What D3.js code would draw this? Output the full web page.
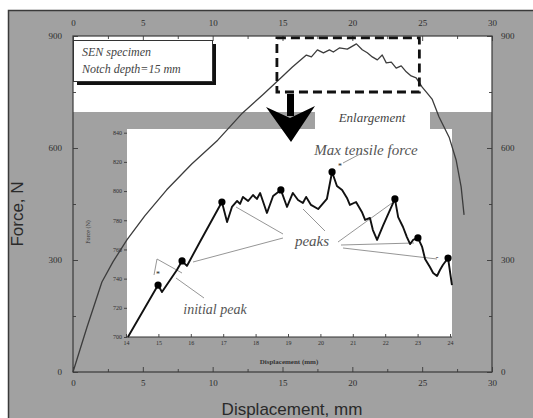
<!DOCTYPE html>
<html>
<head>
<meta charset="utf-8">
<script src="https://cdn.jsdelivr.net/npm/d3@7"></script>
<style>
  html, body { margin: 0; padding: 0; background: #fff; }
  svg { display: block; }
</style>
</head>
<body>
<svg id="chart" width="533" height="418"></svg>
<script>
// Full load–displacement record (displacement in mm, force in N)
const mainDisp  = [0, 1.0, 2.07, 2.86, 3.86, 5.14, 6.71, 8.5, 10.36, 11.21, 12.14, 13.57, 14.57, 15.71, 16.71, 17.07, 17.5, 17.93, 18.36, 18.64, 19.07, 19.64, 20.29, 20.71, 21.07, 21.43, 21.79, 22.14, 22.43, 22.79, 23.14, 23.5, 23.86, 24.21, 24.57, 25.0, 25.36, 25.71, 26.21, 26.93, 27.43, 27.79, 28.0];
const mainForce = [0, 120, 241, 295, 354, 418, 488, 557, 621, 656, 694, 742, 777, 817, 849, 844, 863, 855, 863, 857, 868, 865, 879, 863, 855, 844, 836, 849, 828, 830, 814, 820, 804, 793, 788, 763, 747, 731, 683, 629, 568, 496, 421];

// Enlarged portion of the curve around maximum load
const zoomDisp  = [14.06, 14.99, 15.11, 15.57, 15.73, 15.88, 16.28, 16.96, 17.12, 17.27, 17.43, 17.52, 17.61, 17.77, 17.92, 18.04, 18.14, 18.35, 18.54, 18.78, 18.97, 19.15, 19.31, 19.46, 19.56, 19.71, 19.93, 20.20, 20.36, 20.51, 20.67, 20.82, 20.91, 21.10, 21.28, 21.38, 21.53, 21.62, 21.75, 21.93, 22.30, 22.40, 22.55, 22.67, 22.77, 22.86, 23.01, 23.14, 23.23, 23.38, 23.48, 23.60, 23.69, 23.78, 23.94, 24.06];
const zoomForce = [700, 735.6, 730.8, 745.9, 752.1, 748.7, 765.1, 792.5, 778.8, 789.1, 793.2, 791.2, 796.0, 793.2, 797.3, 794.6, 798.7, 785.0, 796.6, 800.8, 789.1, 798.7, 793.9, 791.8, 796.0, 790.5, 787.7, 794.6, 813.1, 803.5, 800.8, 795.3, 790.5, 792.5, 785.7, 780.2, 781.6, 773.3, 766.5, 776.1, 794.6, 782.2, 775.4, 768.5, 763.7, 766.5, 767.9, 761.7, 753.5, 748.0, 743.9, 741.8, 745.9, 749.3, 754.1, 735.6];

// Marked load peaks in the enlarged record
const peakDisp  = [14.99, 15.73, 16.96, 18.78, 20.36, 22.30, 23.01, 23.94];
const peakForce = [735.6, 752.1, 792.5, 800.8, 813.1, 794.6, 767.9, 754.1];

// Tick values
const mainXTicks = [0, 5, 10, 15, 20, 25, 30];
const mainYTicks = [0, 300, 600, 900];
const zoomXTicks = [14, 15, 16, 17, 18, 19, 20, 21, 22, 23, 24];
const zoomYTicks = [700, 720, 740, 760, 780, 800, 820, 840];

// Region shown enlarged
const enlargeDisp  = [14.6, 24.8];
const enlargeForce = [750, 895];

const svg = d3.select("#chart");
const GRAY = "#a1a1a1";
const serif = "'Liberation Serif', 'DejaVu Serif', serif";
const sans = "'Liberation Sans', Arial, sans-serif";

// Scales
const x = d3.scaleLinear().domain([0, 30]).range([73, 492]);
const y = d3.scaleLinear().domain([0, 900]).range([372, 36]);
const xi = d3.scaleLinear().domain([14, 24]).range([126, 450]);
const yi = d3.scaleLinear().domain([700, 840]).range([337, 132.7]);

// Figure frame and background
svg.append("rect").attr("x", 8.5).attr("y", 10.5).attr("width", 560).attr("height", 420)
  .attr("fill", GRAY).attr("stroke", "#3a3a3a").attr("stroke-width", 1.5);

// Plot area: white upper band, grey lower part
svg.append("rect").attr("x", x(0)).attr("y", y(900)).attr("width", x(30) - x(0)).attr("height", 112 - y(900))
  .attr("fill", "#fff");

// Inset panel
svg.append("rect").attr("x", xi(14) + 1).attr("y", 129).attr("width", 452 - xi(14) - 1).attr("height", yi(700) - 129)
  .attr("fill", "#fff");

// Main axes frame
svg.append("rect").attr("x", x(0)).attr("y", y(900)).attr("width", x(30) - x(0)).attr("height", y(0) - y(900))
  .attr("fill", "none").attr("stroke", "#3a3a3a").attr("stroke-width", 1.2);

function styleAxis(g, size) {
  g.selectAll(".domain").remove();
  g.selectAll("line").attr("stroke", "#3a3a3a").attr("stroke-width", 0.9);
  g.selectAll("text").attr("font-family", serif).attr("font-size", size).attr("fill", "#2e2e2e");
}

const minorX = d3.range(2.5, 30, 5);
const minorY = d3.range(150, 900, 300);

svg.append("g").attr("transform", `translate(0,${y(0)})`)
  .call(d3.axisBottom(x).tickValues(mainXTicks).tickSizeInner(-5).tickSizeOuter(0).tickPadding(8))
  .call(g => styleAxis(g, 9));
svg.append("g").attr("transform", `translate(0,${y(900)})`)
  .call(d3.axisTop(x).tickValues(mainXTicks).tickSizeInner(-5).tickSizeOuter(0).tickPadding(10))
  .call(g => styleAxis(g, 9));
svg.append("g").attr("transform", `translate(${x(0)},0)`)
  .call(d3.axisLeft(y).tickValues(mainYTicks).tickSizeInner(-5).tickSizeOuter(0).tickPadding(11))
  .call(g => styleAxis(g, 9));
svg.append("g").attr("transform", `translate(${x(30)},0)`)
  .call(d3.axisRight(y).tickValues(mainYTicks).tickSizeInner(-5).tickSizeOuter(0).tickPadding(9))
  .call(g => styleAxis(g, 9));
// minor ticks
[["b", y(0)], ["t", y(900)]].forEach(([k, ty]) => {
  svg.append("g").attr("transform", `translate(0,${ty})`)
    .call((k === "b" ? d3.axisBottom(x) : d3.axisTop(x)).tickValues(minorX).tickSizeInner(-3).tickSizeOuter(0).tickFormat(""))
    .call(g => styleAxis(g, 9));
});
[["l", x(0)], ["r", x(30)]].forEach(([k, tx]) => {
  svg.append("g").attr("transform", `translate(${tx},0)`)
    .call((k === "l" ? d3.axisLeft(y) : d3.axisRight(y)).tickValues(minorY).tickSizeInner(-3).tickSizeOuter(0).tickFormat(""))
    .call(g => styleAxis(g, 9));
});

// Main axis titles
svg.append("text").attr("x", 292).attr("y", 415).attr("text-anchor", "middle")
  .attr("font-family", sans).attr("font-size", 17).attr("fill", "#2a2a2a").text("Displacement, mm");
svg.append("text").attr("transform", "translate(23,214) rotate(-90)").attr("text-anchor", "middle")
  .attr("font-family", sans).attr("font-size", 17).attr("fill", "#2a2a2a").text("Force, N");

// Inset axes
svg.append("line").attr("x1", xi(14)).attr("x2", 452).attr("y1", yi(700)).attr("y2", yi(700))
  .attr("stroke", "#333").attr("stroke-width", 1.2);
svg.append("g").attr("transform", `translate(0,${yi(700)})`)
  .call(d3.axisBottom(xi).tickValues(zoomXTicks).tickSizeInner(-3).tickSizeOuter(0).tickPadding(4))
  .call(g => styleAxis(g, 6));
svg.append("g").attr("transform", `translate(${xi(14) + 1},0)`)
  .call(d3.axisLeft(yi).tickValues(zoomYTicks).tickSizeInner(3).tickSizeOuter(0).tickPadding(2))
  .call(g => styleAxis(g, 6));
svg.append("text").attr("x", 289).attr("y", 364).attr("text-anchor", "middle")
  .attr("font-family", serif).attr("font-size", 7).attr("font-weight", "bold").attr("fill", "#333")
  .text("Displacement (mm)");
svg.append("text").attr("transform", "translate(90,232) rotate(-90)").attr("text-anchor", "middle")
  .attr("font-family", serif).attr("font-size", 6).attr("fill", "#333").text("Force (N)");

// Annotation leaders
const leaders = [
  [[283, 234], [236, 207]],
  [[283, 238], [193, 262]],
  [[325, 231], [303, 209]],
  [[338, 242], [392, 203]],
  [[341, 245], [414, 243]],
  [[343, 248], [437, 259]],
  [[157, 259], [182, 273]],
  [[176, 278], [204, 298]],
  [[343, 163], [362, 153]]
];
leaders.forEach(([a, b]) => {
  svg.append("line").attr("x1", a[0]).attr("y1", a[1]).attr("x2", b[0]).attr("y2", b[1])
    .attr("stroke", "#8a8a8a").attr("stroke-width", 0.9);
});
svg.append("line").attr("x1", 154).attr("y1", 275).attr("x2", 157).attr("y2", 259)
  .attr("stroke", "#8a8a8a").attr("stroke-width", 0.9);

// Main curve
const mainLine = d3.line().x((d, i) => x(mainDisp[i])).y(d => y(d));
svg.append("path").datum(mainForce).attr("d", mainLine)
  .attr("fill", "none").attr("stroke", "#3c3c3c").attr("stroke-width", 1.3).attr("stroke-linejoin", "round");

// Enlarged curve
const zoomLine = d3.line().x((d, i) => xi(zoomDisp[i])).y(d => yi(d));
svg.append("path").datum(zoomForce).attr("d", zoomLine)
  .attr("fill", "none").attr("stroke", "#111").attr("stroke-width", 1.9).attr("stroke-linejoin", "round");
svg.append("g").selectAll("circle").data(peakForce).join("circle")
  .attr("cx", (d, i) => xi(peakDisp[i])).attr("cy", d => yi(d)).attr("r", 3.6).attr("fill", "#000");

// small markers near peaks
svg.append("text").attr("x", xi(14.99)).attr("y", yi(735.6) - 8).attr("text-anchor", "middle")
  .attr("font-family", serif).attr("font-size", 8).attr("fill", "#222").text("*");
svg.append("text").attr("x", xi(20.36) + 8).attr("y", yi(813.1) - 3).attr("text-anchor", "middle")
  .attr("font-family", serif).attr("font-size", 8).attr("fill", "#222").text("*");
svg.append("text").attr("x", xi(23.94) - 11).attr("y", yi(754.1) + 2).attr("text-anchor", "middle")
  .attr("font-family", serif).attr("font-size", 8).attr("fill", "#222").text("-");

// Annotation text
svg.append("text").attr("x", 366).attr("y", 155).attr("text-anchor", "middle")
  .attr("font-family", serif).attr("font-style", "italic").attr("font-size", 15).attr("fill", "#555")
  .text("Max tensile force");
svg.append("text").attr("x", 312).attr("y", 246).attr("text-anchor", "middle")
  .attr("font-family", serif).attr("font-style", "italic").attr("font-size", 15).attr("fill", "#555")
  .text("peaks");
svg.append("text").attr("x", 215).attr("y", 314).attr("text-anchor", "middle")
  .attr("font-family", serif).attr("font-style", "italic").attr("font-size", 14).attr("fill", "#555")
  .text("initial peak");

// Enlargement label box
svg.append("rect").attr("x", 315).attr("y", 107).attr("width", 115).attr("height", 23).attr("fill", "#fff");
svg.append("text").attr("x", 372).attr("y", 122).attr("text-anchor", "middle")
  .attr("font-family", serif).attr("font-style", "italic").attr("font-size", 13).attr("fill", "#444")
  .text("Enlargement");

// Dashed rectangle around enlarged region
svg.append("rect")
  .attr("x", x(enlargeDisp[0])).attr("y", y(enlargeForce[1]))
  .attr("width", x(enlargeDisp[1]) - x(enlargeDisp[0])).attr("height", y(enlargeForce[0]) - y(enlargeForce[1]))
  .attr("fill", "none").attr("stroke", "#111").attr("stroke-width", 2.8).attr("stroke-dasharray", "9,5");

// Arrow pointing to inset
svg.append("rect").attr("x", 287).attr("y", 94).attr("width", 7).attr("height", 22).attr("fill", "#000");
svg.append("path").attr("d", "M266,107 L290,118 L315,106 L291,142 Z").attr("fill", "#000");

// Specimen note box with shadow
svg.append("rect").attr("x", 77).attr("y", 44).attr("width", 139).attr("height", 41).attr("fill", "#111");
svg.append("rect").attr("x", 73.5).attr("y", 40.5).attr("width", 139).attr("height", 41)
  .attr("fill", "#fff").attr("stroke", "#333").attr("stroke-width", 1);
svg.append("text").attr("x", 82).attr("y", 56).attr("font-family", serif).attr("font-style", "italic")
  .attr("font-size", 12).attr("fill", "#444").text("SEN specimen");
svg.append("text").attr("x", 82).attr("y", 73).attr("font-family", serif).attr("font-style", "italic")
  .attr("font-size", 12).attr("fill", "#444").text("Notch depth=15 mm");
</script>
</body>
</html>
